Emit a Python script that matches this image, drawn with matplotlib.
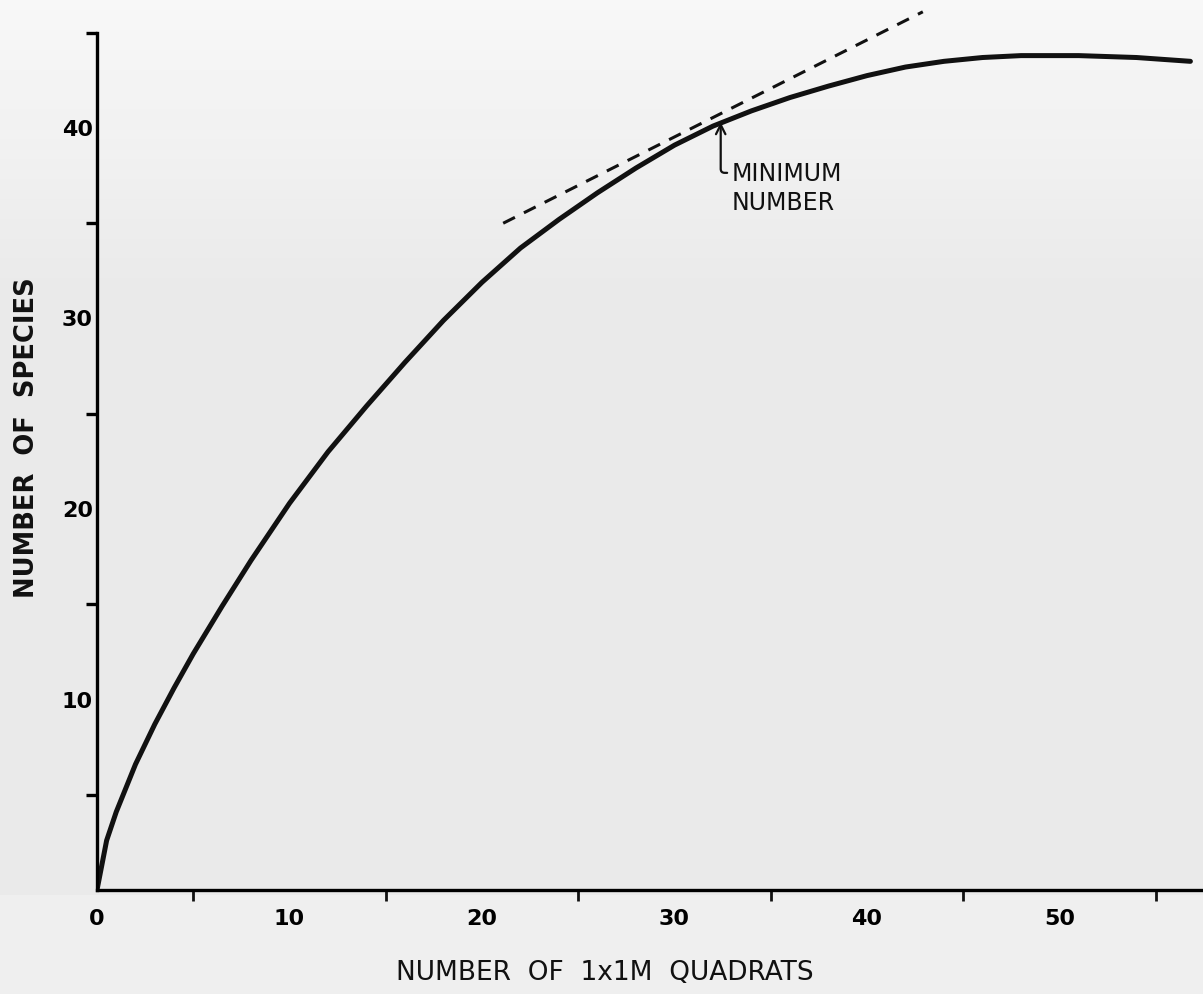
import numpy as np
import matplotlib.pyplot as plt

# species-area curve
quadrats = [0, 0.5, 1, 2, 3, 4, 5, 6.5, 8, 10, 12, 14, 16, 18, 20, 22, 24, 26,
            28, 30, 32, 34, 36, 38, 40, 42, 44, 46, 48, 51, 54, 56.8]
species = [0, 2.6, 4.1, 6.6, 8.7, 10.6, 12.4, 14.9, 17.3, 20.3, 23.0, 25.4, 27.7,
           29.9, 31.9, 33.7, 35.2, 36.6, 37.9, 39.1, 40.1, 40.9, 41.6, 42.2,
           42.75, 43.2, 43.5, 43.7, 43.8, 43.8, 43.7, 43.5]

# dashed tangent line and the point it touches
tangent_x = [21.1, 42.9]
tangent_y = [35.0, 46.1]
min_point = (32.4, 40.3)

x_labels = [0, 10, 20, 30, 40, 50]
x_minor = [5, 15, 25, 35, 45, 55]
y_labels = [10, 20, 30, 40]
y_minor = [5, 15, 25, 35, 45]

W, H = 1203, 994
fig = plt.figure(figsize=(W / 100, H / 100), dpi=100)
fig.patch.set_facecolor('#e9e9e9')

# scanned paper look: lighter towards the top
bg = fig.add_axes([0, 0, 1, 1], zorder=-10)
shade = np.concatenate([np.linspace(0.97, 0.915, 30), np.full(60, 0.915), np.full(10, 0.935)])
bg.imshow(shade[:, None], cmap='gray', vmin=0, vmax=1, aspect='auto', extent=(0, 1, 0, 1))
bg.axis('off')

ax = fig.add_axes([97 / W, (H - 890) / H, (W - 97) / W, 890 / H])
ax.patch.set_alpha(0)
ax.set_xlim(0, (W - 97) / 19.25)
ax.set_ylim(0, 890 / 19.05)

ax.plot(quadrats, species, color='#111111', lw=3.6, solid_capstyle='round',
        solid_joinstyle='round')
ax.plot(tangent_x, tangent_y, color='#111111', lw=2.2, dashes=(4.3, 3.3), clip_on=False)

ax.annotate('MINIMUM\nNUMBER', xy=min_point, xytext=(32.95, 38.2),
            fontsize=17, color='#111111', ha='left', va='top', linespacing=1.25,
            arrowprops=dict(arrowstyle='->', color='#111111', lw=1.6,
                            relpos=(0, 0.8), shrinkA=1, shrinkB=0,
                            connectionstyle='angle,angleA=0,angleB=90,rad=4'))

for side in ['top', 'right']:
    ax.spines[side].set_visible(False)
ax.spines['left'].set_bounds(0, 45)
ax.spines['left'].set_linewidth(2.4)
ax.spines['bottom'].set_linewidth(2.4)

ax.set_xticks(x_labels)
ax.set_xticklabels([str(v) for v in x_labels], fontweight='bold')
ax.set_xticks(x_minor, minor=True)
ax.set_yticks(y_labels)
ax.set_yticklabels([str(v) for v in y_labels], fontweight='bold')
ax.set_yticks(y_minor, minor=True)
ax.tick_params(axis='x', which='both', direction='out', length=8, width=2, pad=4,
               labelsize=16, color='#111111')
ax.tick_params(axis='x', which='major', length=0, pad=14)
ax.tick_params(axis='y', which='major', length=0, pad=3, labelsize=16)
ax.tick_params(axis='y', which='minor', direction='out', length=8, width=2.4)

fig.text(605 / W, 1 - 973 / H, 'NUMBER  OF  1x1M  QUADRATS', fontsize=19,
         ha='center', va='center', color='#111111')
fig.text(27 / W, 1 - 438 / H, 'NUMBER  OF  SPECIES', fontsize=18.5, rotation=90,
         fontweight='bold', ha='center', va='center', color='#111111')

fig.savefig('out.png', dpi=100, facecolor=fig.get_facecolor())
